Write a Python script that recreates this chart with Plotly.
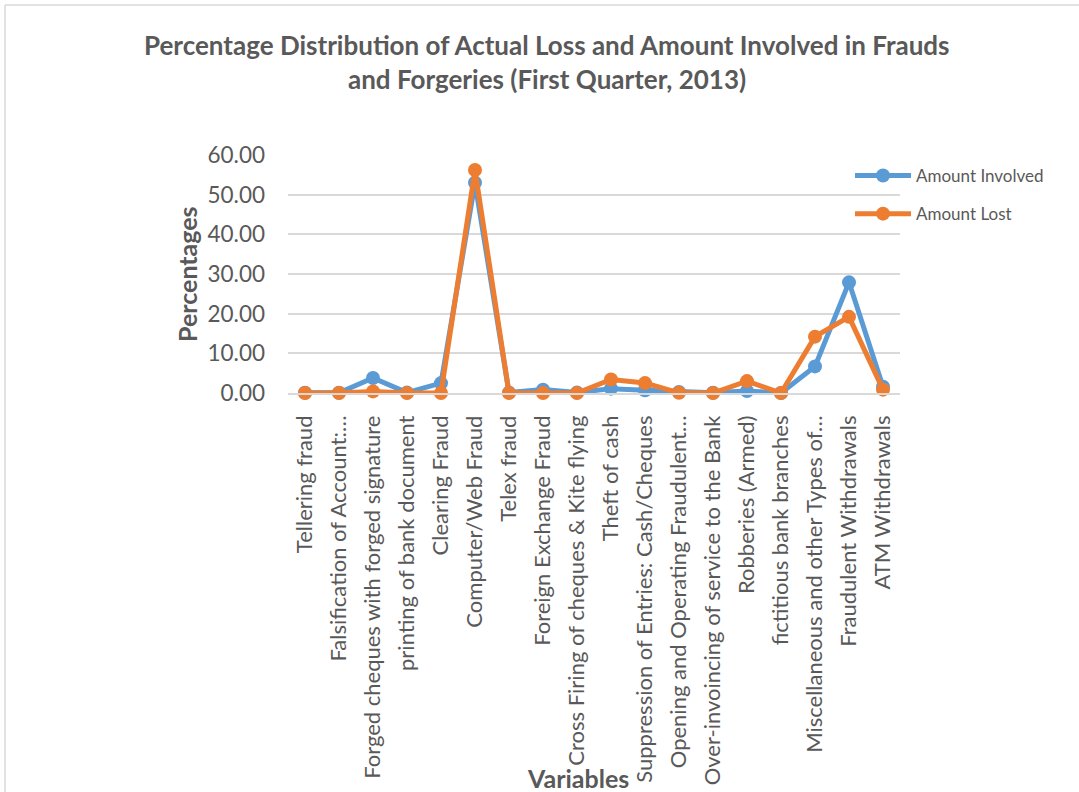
import plotly.graph_objects as go

# Fraud categories and their percentage shares (First Quarter, 2013)
categories = [
    "Tellering fraud",
    "Falsification of Account:…",
    "Forged cheques with forged signature",
    "printing of bank document",
    "Clearing Fraud",
    "Computer/Web Fraud",
    "Telex fraud",
    "Foreign Exchange Fraud",
    "Cross Firing of cheques & Kite flying",
    "Theft of cash",
    "Suppression of Entries: Cash/Cheques",
    "Opening and Operating Fraudulent…",
    "Over-invoincing of service to the Bank",
    "Robberies (Armed)",
    "fictitious bank branches",
    "Miscellaneous and other Types of…",
    "Fraudulent Withdrawals",
    "ATM Withdrawals",
]
amount_involved = [0.05, 0.05, 3.8, 0.1, 2.5, 53.0, 0.1, 0.85, 0.1, 1.1,
                   0.7, 0.25, 0.05, 0.5, 0.0, 6.7, 27.9, 1.6]
amount_lost = [0.0, 0.0, 0.4, 0.0, 0.0, 56.2, 0.0, 0.0, 0.0, 3.4,
               2.5, 0.05, 0.0, 3.0, 0.0, 14.2, 19.2, 0.85]
y_ticks = [0, 10, 20, 30, 40, 50, 60]

W, H = 1079, 792
L, R, T, B = 288, 179, 155, 399
PW, PH = W - L - R, H - T - B

def px_x(px):
    return (px - L) / PW

def px_y(py):
    return 1 - (py - T) / PH

FONT = "Lato"
TXT = "#595959"
BLUE = "#5B9BD5"
ORANGE = "#ED7D31"

fig = go.Figure()
fig.add_trace(go.Scatter(
    x=categories, y=amount_involved, name="Amount Involved",
    mode="lines+markers", line=dict(color=BLUE, width=5),
    marker=dict(size=14, color=BLUE), cliponaxis=False,
    legendgroup="a",
))
fig.add_trace(go.Scatter(
    x=categories, y=amount_lost, name="Amount Lost",
    mode="lines+markers", line=dict(color=ORANGE, width=5),
    marker=dict(size=14, color=ORANGE), cliponaxis=False,
    legendgroup="b",
))

fig.update_layout(
    width=W, height=H,
    margin=dict(l=L, r=R, t=T, b=B, autoexpand=False),
    paper_bgcolor="white", plot_bgcolor="white",
    font=dict(family=FONT, color=TXT),
    showlegend=True,
    legend=dict(
        x=px_x(850), y=px_y(158), xanchor="left", yanchor="top",
        font=dict(size=17, color=TXT, family=FONT),
        itemwidth=56, traceorder="grouped", tracegroupgap=13,
        bgcolor="rgba(0,0,0,0)",
    ),
)

fig.update_xaxes(
    type="category", range=[-0.5, len(categories) - 0.5],
    tickangle=-90, tickfont=dict(size=22, color=TXT, family=FONT),
    showgrid=False, showline=True, linecolor="#D9D9D9", linewidth=1.5,
    ticks="", ticklen=0, ticklabelstandoff=12, automargin=False,
)
fig.update_yaxes(
    range=[0, 60], tickvals=y_ticks, tickformat=".2f",
    tickfont=dict(size=22.5, color=TXT, family=FONT),
    showgrid=True, gridcolor="#D9D9D9", gridwidth=1.5,
    zeroline=False, showline=False, ticks="", ticklabelstandoff=22,
    automargin=False,
)

# Chart title
fig.add_annotation(
    text="<b>Percentage Distribution of Actual Loss and Amount Involved in Frauds</b>",
    x=px_x(547), y=px_y(45), xref="paper", yref="paper",
    xanchor="center", yanchor="middle", showarrow=False,
    font=dict(size=26, color=TXT, family=FONT),
)
fig.add_annotation(
    text="<b>and Forgeries (First Quarter, 2013)</b>",
    x=px_x(547), y=px_y(79), xref="paper", yref="paper",
    xanchor="center", yanchor="middle", showarrow=False,
    font=dict(size=26, color=TXT, family=FONT),
)
# Axis titles
fig.add_annotation(
    text="<b>Percentages</b>", textangle=-90,
    x=px_x(187), y=px_y(274), xref="paper", yref="paper",
    xanchor="center", yanchor="middle", showarrow=False,
    font=dict(size=25, color=TXT, family=FONT),
)
fig.add_annotation(
    text="<b>Variables</b>",
    x=px_x(578), y=px_y(778), xref="paper", yref="paper",
    xanchor="center", yanchor="middle", showarrow=False,
    font=dict(size=25, color=TXT, family=FONT),
)

# Chart frame (left and top edges)
fig.add_shape(type="line", xref="paper", yref="paper",
              x0=px_x(5), x1=px_x(5), y0=px_y(5), y1=px_y(800),
              line=dict(color="#D9D9D9", width=1.5))
fig.add_shape(type="line", xref="paper", yref="paper",
              x0=px_x(5), x1=px_x(1085), y0=px_y(5), y1=px_y(5),
              line=dict(color="#D9D9D9", width=1.5))

fig.write_html("out.html")
